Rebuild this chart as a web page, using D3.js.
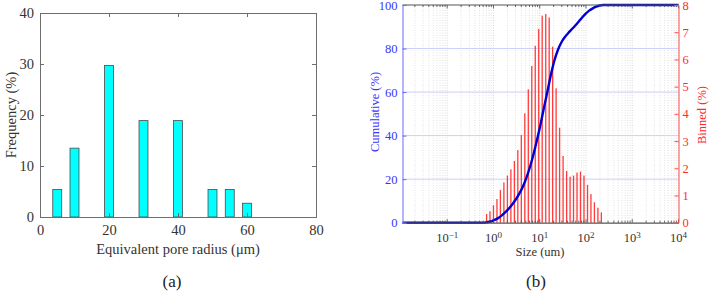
<!DOCTYPE html>
<html><head><meta charset="utf-8">
<script src="https://cdn.jsdelivr.net/npm/d3@7"></script>
<style>
body{margin:0;background:#fff;}
svg{display:block;}
text{font-family:"Liberation Serif","Times New Roman",serif;}
</style></head>
<body>
<svg id="c" width="709" height="293"></svg>
<script>
// ---- Panel (a) data ----
const poreRadius = [5, 10, 20, 30, 40, 50, 55, 60];
const poreFreq   = [5.4, 13.5, 29.7, 18.9, 18.9, 5.4, 5.4, 2.7];
const aXTicks = [0, 20, 40, 60, 80];
const aYTicks = [0, 10, 20, 30, 40];

// ---- Panel (b) data ----
const binSizes = [0.71, 0.84, 1.0, 1.19, 1.41, 1.68, 2.0, 2.38, 2.83, 3.36, 4.0, 4.76, 5.66, 6.73, 8.0, 9.51,
  11.3, 13.5, 16.0, 19.0, 22.6, 26.9, 32.0, 38.1, 45.3, 53.8, 64.0, 76.1, 90.5, 108, 128, 152, 181, 215];
const binned = [0.32, 0.42, 0.64, 0.87, 1.2, 1.48, 1.73, 1.96, 2.27, 2.67, 3.22, 4.02, 4.9, 5.76, 6.5, 7.12,
  7.61, 7.67, 7.54, 6.47, 4.94, 3.49, 2.45, 1.9, 1.69, 1.73, 1.84, 1.88, 1.73, 1.39, 1.05, 0.75, 0.55, 0.38];
const cumSizes = [0.0108, 0.5, 0.65, 0.77, 0.92, 1.09, 1.3, 1.54, 1.83, 2.18, 2.59, 3.08, 3.67, 4.36, 5.19, 6.17,
  7.34, 8.72, 10.4, 12.3, 14.7, 17.4, 20.7, 24.7, 29.3, 34.9, 41.5, 49.3, 58.7, 69.8, 83, 98.7, 117, 140, 166, 197, 235, 10000];
const cumValues = [0, 0, 0, 0.32, 0.74, 1.38, 2.25, 3.45, 4.93, 6.66, 8.62, 10.89, 13.56, 16.78, 20.8, 25.7,
  31.46, 37.96, 45.08, 52.69, 60.36, 67.9, 74.37, 79.31, 82.8, 85.25, 87.15, 88.84, 90.57, 92.41, 94.29, 96.02, 97.41, 98.46, 99.21, 99.76, 100, 100];
const bLeftTicks = [0, 20, 40, 60, 80, 100];
const bRightTicks = [0, 1, 2, 3, 4, 5, 6, 7, 8];
const bXExponents = [-1, 0, 1, 2, 3, 4];

const svg = d3.select("#c");

// =============== Panel (a) ===============
const ax = d3.scaleLinear([0, 80], [40, 316]);
const ay = d3.scaleLinear([0, 40], [217, 13]);
const gA = svg.append("g");
const frameCol = "#6e6e6e";
const tickTxt = "#333";

gA.selectAll("rect.bar").data(poreRadius).join("rect")
  .attr("class", "bar")
  .attr("x", (d) => ax(d - 1.3))
  .attr("width", (d) => ax(d + 1.3) - ax(d - 1.3))
  .attr("y", (d, i) => ay(poreFreq[i]))
  .attr("height", (d, i) => ay(0) - ay(poreFreq[i]))
  .attr("fill", "#00ffff").attr("stroke", "#4a4a4a").attr("stroke-width", 0.8);

const axB = d3.axisBottom(ax).tickValues(aXTicks).tickSize(-4).tickPadding(8).tickFormat(d3.format("d"));
const axT = d3.axisTop(ax).tickValues(aXTicks).tickSize(-4).tickFormat("");
const ayL = d3.axisLeft(ay).tickValues(aYTicks).tickSize(-4).tickPadding(6).tickFormat(d3.format("d"));
const ayR = d3.axisRight(ay).tickValues(aYTicks).tickSize(-4).tickFormat("");
function styleAxis(g, col, txtCol, fs) {
  g.attr("font-family", null);
  g.select(".domain").attr("stroke", col).attr("stroke-width", 1);
  g.selectAll(".tick line").attr("stroke", col);
  g.selectAll(".tick text").attr("fill", txtCol).style("font-size", fs + "px").style("font-family", "'Liberation Serif',serif");
}
gA.append("g").attr("transform", "translate(0,217)").call(axB).call(styleAxis, frameCol, tickTxt, 14.5);
gA.append("g").attr("transform", "translate(0,13)").call(axT).call(styleAxis, frameCol, tickTxt, 14.5);
gA.append("g").attr("transform", "translate(40,0)").call(ayL).call(styleAxis, frameCol, tickTxt, 14.5);
gA.append("g").attr("transform", "translate(316,0)").call(ayR).call(styleAxis, frameCol, tickTxt, 14.5);

gA.append("text").attr("x", 178).attr("y", 254).attr("text-anchor", "middle")
  .attr("fill", tickTxt).style("font-size", "14.5px").text("Equivalent pore radius (μm)");
gA.append("text").attr("transform", "translate(16,115) rotate(-90)").attr("text-anchor", "middle")
  .attr("fill", tickTxt).style("font-size", "14.5px").text("Frequency (%)");
gA.append("text").attr("x", 172).attr("y", 287).attr("text-anchor", "middle")
  .attr("fill", "#222").style("font-size", "17px").text("(a)");

// =============== Panel (b) ===============
const bx = d3.scaleLog([0.0108, 10000], [402.5, 678.5]);
const by = d3.scaleLinear([0, 100], [222.7, 5]);
const byR = d3.scaleLinear([0, 8], [222.7, 5]);
const gB = svg.append("g");
const blue = "#3535ff", red = "#ff2a2a";

const minorVals = [];
for (let e = -2; e <= 4; e++) for (let m = 1; m <= 9; m++) {
  const v = m * Math.pow(10, e);
  if (v >= 0.0108 && v <= 10000) minorVals.push(v);
}
const isMajor = (d) => Math.abs(Math.log10(d) - Math.round(Math.log10(d))) < 1e-6;
// vertical dotted grid
gB.selectAll("line.vg").data(minorVals).join("line").attr("class", "vg")
  .attr("x1", (d) => bx(d)).attr("x2", (d) => bx(d)).attr("y1", 5).attr("y2", 222.7)
  .attr("stroke", (d) => isMajor(d) ? "#c4c4c4" : "#d6d6d6").attr("stroke-width", 0.7).attr("stroke-dasharray", "1,1.5");
// horizontal blue grid
gB.selectAll("line.hg").data(bLeftTicks.filter((d) => d > 0 && d < 100)).join("line").attr("class", "hg")
  .attr("x1", 402.5).attr("x2", 678.5).attr("y1", (d) => by(d)).attr("y2", (d) => by(d))
  .attr("stroke", "#cdcdff").attr("stroke-width", 1);

// binned bars
gB.selectAll("rect.bin").data(binSizes).join("rect").attr("class", "bin")
  .attr("x", (d) => bx(d) - 0.65).attr("width", 1.3)
  .attr("y", (d, i) => byR(binned[i])).attr("height", (d, i) => byR(0) - byR(binned[i]))
  .attr("fill", "#ff3b3b");

// cumulative curve
const line = d3.line().x((d) => bx(d)).y((d, i) => by(cumValues[i])).curve(d3.curveMonotoneX);
gB.append("path").attr("d", line(cumSizes)).attr("fill", "none")
  .attr("stroke", "#0000d2").attr("stroke-width", 2.4).attr("stroke-linejoin", "round");

// frame top / bottom with log ticks
const axBot = d3.axisBottom(bx).tickValues([]).tickSize(0).tickFormat("");
const gBot = gB.append("g").attr("transform", "translate(0,222.7)").call(axBot);
gBot.select(".domain").attr("stroke", "#555").attr("stroke-width", 1.2);
gB.append("line").attr("x1", 402.5).attr("x2", 678.5).attr("y1", 5).attr("y2", 5)
  .attr("stroke", "#555").attr("stroke-width", 1.2);
gB.selectAll("line.bt").data(minorVals).join("line").attr("class", "bt")
  .attr("x1", (d) => bx(d)).attr("x2", (d) => bx(d))
  .attr("y1", 222.7).attr("y2", (d) => 222.7 - (isMajor(d) ? 3.5 : 2))
  .attr("stroke", "#444").attr("stroke-width", 0.8);
gB.selectAll("line.tt").data(minorVals).join("line").attr("class", "tt")
  .attr("x1", (d) => bx(d)).attr("x2", (d) => bx(d))
  .attr("y1", 5).attr("y2", (d) => 5 + (isMajor(d) ? 3.5 : 2))
  .attr("stroke", "#444").attr("stroke-width", 0.8);

// log tick labels
const xl = gB.selectAll("text.xl").data(bXExponents).join("text").attr("class", "xl")
  .attr("x", (d) => bx(Math.pow(10, d))).attr("y", 242).attr("text-anchor", "middle")
  .attr("fill", "#333").style("font-size", "12.5px");
xl.append("tspan").text("10");
xl.append("tspan").attr("dy", -4.5).style("font-size", "9px").text((d) => d < 0 ? "\u2212" + Math.abs(d) : d);

// left axis (blue)
const ayB = d3.axisLeft(by).tickValues(bLeftTicks).tickSize(-4).tickPadding(5).tickFormat(d3.format("d"));
gB.append("g").attr("transform", "translate(402.5,0)").call(ayB).call(styleAxis, "#6a6aff", blue, 12.5);
// right axis (red)
const ayRB = d3.axisRight(byR).tickValues(bRightTicks).tickSize(-4).tickPadding(4).tickFormat(d3.format("d"));
gB.append("g").attr("transform", "translate(678.5,0)").call(ayRB).call(styleAxis, "#ff4d4d", red, 12.5);

gB.append("text").attr("x", 540).attr("y", 256).attr("text-anchor", "middle")
  .attr("fill", "#333").style("font-size", "12.5px").text("Size (um)");
gB.append("text").attr("transform", "translate(379,112) rotate(-90)").attr("text-anchor", "middle")
  .attr("fill", blue).style("font-size", "12.5px").text("Cumulative (%)");
gB.append("text").attr("transform", "translate(706,115) rotate(-90)").attr("text-anchor", "middle")
  .attr("fill", red).style("font-size", "12.5px").text("Binned (%)");
gB.append("text").attr("x", 536).attr("y", 287).attr("text-anchor", "middle")
  .attr("fill", "#222").style("font-size", "17px").text("(b)");
</script>
</body></html>
